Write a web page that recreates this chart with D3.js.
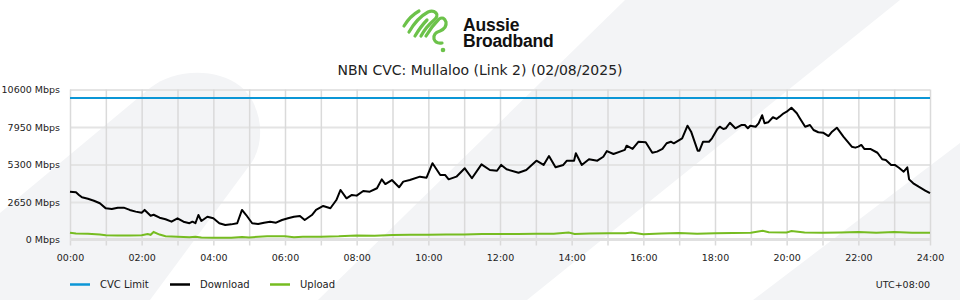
<!DOCTYPE html>
<meta charset="utf-8">
<style>

body {
  margin: 0;
  background: #fff;
}

#box1 {
  width: 960px;
  height: 300px;
}

text {
  font-family: "DejaVu Sans", sans-serif;
}

</style>

<body>
  <div id = "box1">
  </div>
</body>

<script src="https://d3js.org/d3.v7.min.js"></script>
<script>

// download samples (time of day / Mbps)
var downloadTimes = ["00:00","00:10","00:15","00:20","00:30","00:40","00:50","01:00","01:10","01:20","01:30","01:40","01:50",
  "02:00","02:05","02:15","02:20","02:30","02:40","02:50","03:00","03:10","03:20","03:25","03:30","03:35","03:40","03:50",
  "04:00","04:10","04:20","04:30","04:40","04:48","04:55","05:05","05:15","05:25","05:35","05:45","05:55",
  "06:05","06:15","06:25","06:33","06:45","06:52","07:04","07:16","07:26","07:33","07:43","07:52",
  "08:00","08:11","08:22","08:34","08:42","08:48","08:59","09:11","09:18","09:29","09:46","09:57",
  "10:07","10:20","10:28","10:34","10:47","11:01","11:13","11:29","11:43","11:55",
  "12:02","12:11","12:31","12:44","13:01","13:13","13:22","13:33","13:46","13:52",
  "14:04","14:07","14:17","14:29","14:43","14:53","14:59","15:10","15:21","15:29","15:32","15:42","15:52",
  "16:04","16:15","16:23","16:32","16:39","16:46","16:51","17:05","17:14","17:20","17:31","17:34","17:40","17:50","17:55",
  "18:04","18:08","18:14","18:18","18:25","18:34","18:44","18:50","18:55","18:59",
  "19:08","19:13","19:19","19:23","19:29","19:37","19:43","19:48","19:55",
  "20:00","20:08","20:17","20:22","20:31","20:39","20:45","20:53",
  "21:01","21:10","21:16","21:24","21:35","21:49","21:55",
  "22:00","22:05","22:10","22:20","22:32","22:40","22:46","22:55",
  "23:01","23:08","23:16","23:22","23:25","23:32","23:41","23:52","24:00"]

var downloadValues = [3380,3340,3150,2980,2880,2740,2560,2200,2150,2250,2250,2090,1970,
  1890,2090,1680,1750,1540,1430,1260,1500,1260,1150,1260,1150,1730,1310,1610,
  1500,1150,1030,1070,1150,2090,1730,1150,1100,1190,1260,1190,1380,
  1500,1610,1660,1380,1730,2100,2370,2210,2790,3500,2910,3150,
  3100,3430,3380,3620,4250,3920,4200,3690,4090,4200,4440,4370,
  5390,4560,4560,4250,4440,5030,4330,5310,4910,4860,
  5270,4960,4720,4910,5570,5270,5900,5100,5270,5570,
  5570,6090,5270,5670,5570,5850,6250,6040,6210,6330,6630,6400,6910,
  6870,6130,6210,6400,6800,6910,6800,7150,8040,7620,6280,6280,6910,6910,7150,
  7810,7970,7810,7860,8250,7860,8090,8090,7860,8040,
  7970,8210,8780,8210,8280,8640,8520,8680,8920,
  9030,9310,8920,8570,7970,8090,7740,7580,
  7550,7310,7620,7900,7270,6560,6490,
  6560,6680,6400,6400,6130,5670,5620,5270,
  5270,5070,4790,5100,4250,3970,3730,3460,3270]

// upload samples
var uploadTimes = ["00:00","00:10","00:30","00:50","01:00","01:20","01:40","02:00","02:10","02:15","02:20","02:30","02:40",
  "03:00","03:20","03:30","03:40","04:00","04:30","04:48","05:00","05:30","06:00","06:15","06:30","07:00","07:30",
  "08:00","08:30","09:00","09:30","10:00","10:30","11:00","11:30","12:00","12:30","13:00","13:30","13:55","14:05",
  "14:30","15:00","15:30","15:40","16:00","16:30","17:00","17:30","18:00","18:30","19:00","19:20","19:30",
  "20:00","20:08","20:30","21:00","21:30","22:00","22:30","23:00","23:30","24:00"]

var uploadValues = [480,420,400,350,300,280,290,300,380,330,530,350,230,
  200,160,200,150,130,130,180,150,230,230,160,200,200,230,
  290,270,320,330,340,350,360,380,390,390,400,400,490,390,
  420,440,450,500,370,420,460,410,450,460,470,620,520,
  500,600,500,470,500,530,480,530,480,480]

var cvcLimit = 10000
var yTicks = [0, 2650, 5300, 7950, 10600]
var hourTicks = d3.range(0, 25)
var legendKeys = ["CVC Limit", "Download", "Upload"]
var titleText = "NBN CVC: Mullaloo (Link 2) (02/08/2025)"

height = 300;
width = 960;
margin = ({top: 89.5, right: 30, bottom: 60.5, left: 70});

function toHours(t) {
  var p = t.split(":")
  return +p[0] + (+p[1]) / 60
}

colors = d3.scaleOrdinal()
  .domain(legendKeys)
  .range(["#0b96d6", "#000000", "#76bc21"])

xScale = d3.scaleLinear([0, 24], [margin.left, width - margin.right])
yScale = d3.scaleLinear([0, 10600], [height - margin.bottom, margin.top])

var svg = d3.select("#box1").append("svg")
    .attr("width", width)
    .attr("height", height)

// decorative grey shapes in the background
var bg = svg.append("g").style("fill", "#f3f4f6")
bg.append("path").attr("d", "M0,213 L150,88 C172,70 214,66 240,86 C262,104 266,140 252,162 L150,300 L0,300 Z")
bg.append("path").attr("d", "M625,0 L900,0 L527,300 L318,300 Z")
bg.append("path").attr("d", "M753,300 L960,143 L960,300 Z")

// logo mark: diagonal strokes + curl + dot
var logo = svg.append("g")
    .style("fill", "none")
    .style("stroke", "#6cc24a")
    .style("stroke-width", 3.2)
    .style("stroke-linecap", "round")
    .style("stroke-linejoin", "round")
logo.append("path").attr("d", "M404,26 Q410,16 419,11")
logo.append("path").attr("d", "M409,32 Q417,18 428,12 Q433,10 436,13 Q439,16 433,21 Q426,27 421,36")
logo.append("path").attr("d", "M415,36 Q421,26 427,20")
logo.append("path").attr("d", "M426,36 Q432,26 439,19 Q444,16 446,22 Q447,28 440,31 Q433,33 434,39 Q436,44 442,43")
logo.append("circle").attr("cx", 443).attr("cy", 50).attr("r", 2.3)
  .style("fill", "#6cc24a").style("stroke", "none")

var brand = svg.append("text")
  .attr("x", 463).attr("y", 31)
  .style("font-family", "'Liberation Sans', Arial, sans-serif")
  .style("font-weight", "bold")
  .style("font-size", "17.5px")
  .style("letter-spacing", "-0.2px")
  .style("fill", "#111")
brand.append("tspan").attr("x", 463).attr("y", 31).text("Aussie")
brand.append("tspan").attr("x", 463).attr("y", 47).text("Broadband")

svg.append("text")
  .attr("x", width / 2).attr("y", 75)
  .attr("text-anchor", "middle")
  .style("font-size", "14px")
  .style("fill", "#222")
  .text(titleText)

// grid + axes
yAxis = d3.axisLeft(yScale)
  .tickValues(yTicks)
  .tickSize(-(width - margin.left - margin.right))
  .tickPadding(10)
  .tickFormat(d => d + " Mbps")

var gy = svg.append("g")
  .attr("transform", "translate(" + margin.left + ",0)")
  .call(yAxis)
gy.select(".domain").remove()
gy.selectAll("line").style("stroke", "#e4e4e4").style("stroke-width", 2)
gy.selectAll("text").style("font-family", "DejaVu Sans").style("font-size", "9.5px").style("fill", "#222")

xAxis = d3.axisBottom(xScale)
  .tickValues(hourTicks)
  .tickSize(-(yScale(0) - yScale(10600) + 6))
  .tickPadding(9)
  .tickFormat(d => d % 2 == 0 ? d3.format("02")(d) + ":00" : "")

var gx = svg.append("g")
  .attr("transform", "translate(0," + (yScale(0) + 6) + ")")
  .call(xAxis)
gx.select(".domain").remove()
gx.selectAll("line").style("stroke", "#dadada").style("stroke-width", 1.5)
gx.selectAll("text").style("font-family", "DejaVu Sans").style("font-size", "9.5px").style("fill", "#222")

// bottom frame line
svg.append("line")
  .attr("x1", margin.left).attr("x2", width - margin.right)
  .attr("y1", yScale(0)).attr("y2", yScale(0))
  .style("stroke", "#e0e0e0").style("stroke-width", 3)

// series
line = d3.line()
  .x(d => xScale(toHours(d[0])))
  .y(d => yScale(d[1]))

svg.append("path")
  .datum([["00:00", cvcLimit], ["24:00", cvcLimit]])
  .attr("d", line)
  .style("fill", "none")
  .style("stroke", colors("CVC Limit"))
  .style("stroke-width", 2)

svg.append("path")
  .datum(d3.zip(uploadTimes, uploadValues))
  .attr("d", line)
  .style("fill", "none")
  .style("stroke", colors("Upload"))
  .style("stroke-width", 2)

svg.append("path")
  .datum(d3.zip(downloadTimes, downloadValues))
  .attr("d", line)
  .style("fill", "none")
  .style("stroke", colors("Download"))
  .style("stroke-width", 2)
  .style("stroke-linejoin", "round")

// legend
var legendX = [70, 170, 270]

svg.selectAll("legendlines")
  .data(legendKeys)
  .enter()
  .append("line")
    .attr("x1", (d, i) => legendX[i])
    .attr("x2", (d, i) => legendX[i] + 20)
    .attr("y1", 284.5)
    .attr("y2", 284.5)
    .style("stroke", d => colors(d))
    .style("stroke-width", 2.5)

svg.selectAll("legendlabels")
  .data(legendKeys)
  .enter()
  .append("text")
    .attr("x", (d, i) => legendX[i] + 30)
    .attr("y", 288)
    .style("font-size", "10px")
    .style("fill", "#222")
    .text(d => d)

svg.append("text")
  .attr("x", width - margin.right)
  .attr("y", 288)
  .attr("text-anchor", "end")
  .style("font-size", "9.5px")
  .style("fill", "#222")
  .text("UTC+08:00")

</script>
